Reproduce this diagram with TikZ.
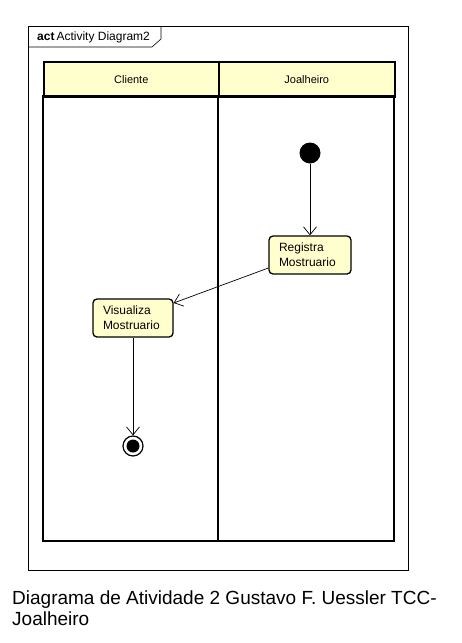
\documentclass[tikz,border=0pt]{standalone}
\usepackage{fontspec}
\setmainfont{Liberation Sans}
\usetikzlibrary{arrows.meta}
\definecolor{laneyellow}{RGB}{255,255,206}
\definecolor{actyellow}{RGB}{255,255,206}
\tikzset{
  lanehead/.style={draw, line width=1.6pt, fill=laneyellow, minimum height=35pt, inner sep=0pt, font=\fontsize{11pt}{13pt}\selectfont},
  actbox/.style={draw, line width=1.3pt, fill=actyellow, rounded corners=4pt, align=left, inner sep=0pt,
                 font=\fontsize{12pt}{15pt}\selectfont},
  flow/.style={line width=0.7pt, -{Straight Barb[length=8pt,width=13pt,line width=0.7pt]}},
}
\begin{document}
\begin{tikzpicture}[x=1pt,y=-1pt]
\useasboundingbox (0,0) rectangle (461,643);
% diagram frame with its name tab
\draw[line width=0.6pt] (28,26) rectangle (408,570);
\draw[line width=0.6pt] (28,47) -- (152,47) -- (161,39) -- (161,26);
\node[anchor=west, inner sep=0pt, font=\fontsize{12pt}{14pt}\selectfont] (tab) at (37,37) {\textbf{act}\,Activity Diagram2};
% swimlanes
\node[lanehead, minimum width=175pt, anchor=north west] (hcli) at (43,61) {Cliente};
\node[lanehead, minimum width=176pt, anchor=north west] (hjoa) at (218,61) {Joalheiro};
\draw[line width=1.6pt] (43,96) rectangle (394,541);
\draw[line width=1.6pt] (218,96) -- (218,541);
% nodes
\node[circle, fill, inner sep=0pt, minimum size=21pt] (start) at (310,153) {};
\node[actbox, minimum width=82pt, minimum height=38pt, text width=62pt] (reg) at (310,255) {Registra\\Mostruario};
\node[actbox, minimum width=80pt, minimum height=38pt, text width=60pt] (vis) at (133,318) {Visualiza\\Mostruario};
\node[circle, draw, line width=1.2pt, minimum size=20pt, inner sep=0pt] (final) at (133,446) {};
\fill (final.center) circle (6.5);
% flows
\draw[flow] (start.south) -- (reg.north);
\draw[flow] (reg.west |- 0,268) -- (vis.east |- 0,303);
\draw[flow] (vis.south) -- (final.north);
% caption
\node[anchor=north west, align=left, inner sep=0pt, font=\fontsize{19pt}{21pt}\selectfont] (cap) at (12,591)
  {Diagrama de Atividade 2 Gustavo F. Uessler TCC-\\Joalheiro};
\end{tikzpicture}
\end{document}
